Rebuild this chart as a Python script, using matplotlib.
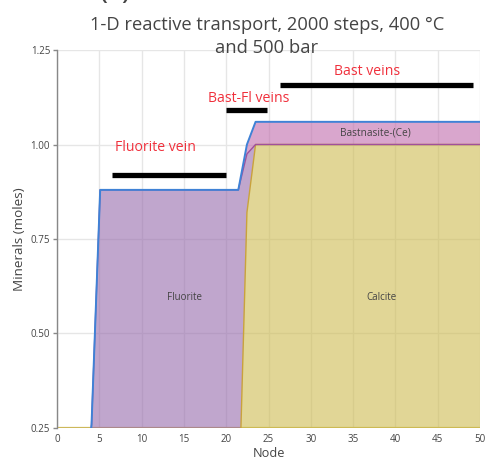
import numpy as np
import matplotlib
matplotlib.use("Agg")
import matplotlib.pyplot as plt

plt.rcParams['font.family'] = ['Open Sans', 'DejaVu Sans']

# 50 grid nodes spread across the 0-50 column
nodes = np.linspace(0, 50, 50)

calcite = [0.0] * 22 + [0.82] + [1.0] * 27
fluorite = [0.0] * 4 + [0.26] + [0.88] * 17 + [0.155] + [0.0] * 27
bastnasite = [0.0] * 22 + [0.025] + [0.06] * 27

vein_labels = ["Fluorite vein", "Bast-Fl veins", "Bast veins"]
vein_x0 = [6.5, 20.0, 26.4]
vein_x1 = [20.0, 24.8, 49.2]
vein_y = [0.92, 1.091, 1.158]
vein_text_x = [11.6, 22.7, 36.7]
vein_text_y = [0.993, 1.123, 1.194]

calcite = np.array(calcite)
fluorite = np.array(fluorite)
bastnasite = np.array(bastnasite)
c1 = calcite
c2 = calcite + fluorite
c3 = c2 + bastnasite

fig = plt.figure(figsize=(4.89, 4.61), dpi=100)
ax = fig.add_axes([0.1166, 0.0716, 0.865, 0.8199])

grid_c = '#e6e6e6'
ax.set_xlim(0, 50)
ax.set_ylim(0.25, 1.25)
ax.set_xticks(range(0, 51, 5))
ax.set_yticks([0.25, 0.5, 0.75, 1.0, 1.25])
ax.set_yticklabels(['0.25', '0.50', '0.75', '1.00', '1.25'])
ax.grid(True, color=grid_c, lw=1)
ax.set_axisbelow(True)
for s in ['top', 'right', 'bottom']:
    ax.spines[s].set_visible(False)
ax.spines['left'].set_color('#888888')
ax.spines['left'].set_linewidth(1)
ax.tick_params(axis='x', length=0, labelsize=7, labelcolor='#444444', pad=4)
ax.tick_params(axis='y', length=3, width=1, color='#888888', labelsize=7,
               labelcolor='#444444', pad=2)

# baseline along the bottom of the plot
ax.axhline(0.25, color='#cdb85a', lw=1.6, zorder=1)

ax.fill_between(nodes, 0, c1, facecolor=(205/255, 188/255, 80/255, 0.6), lw=0, zorder=2)
ax.fill_between(nodes, c1, c2, facecolor=(150/255, 107/255, 173/255, 0.6), lw=0, zorder=2)
ax.fill_between(nodes, c2, c3, facecolor=(193/255, 107/255, 173/255, 0.6), lw=0, zorder=2)

ax.plot(nodes, c1, color='#c9a23c', lw=1.0, zorder=3)
ax.plot(nodes, c2, color='#a0509c', lw=1.0, zorder=4)
ax.plot(nodes, c3, color='#3f82d6', lw=1.4, zorder=5)

for x0, x1, y in zip(vein_x0, vein_x1, vein_y):
    ax.plot([x0, x1], [y, y], color='black', lw=3.8, solid_capstyle='butt', zorder=6,
            clip_on=False)
for lab, tx, ty in zip(vein_labels, vein_text_x, vein_text_y):
    ax.text(tx, ty, lab, color='#f0303c', fontsize=10.1, ha='center', va='center', zorder=7)

ax.text(37.6, 1.03, 'Bastnasite-(Ce)', fontsize=7.3, color='#444444', ha='center', va='center', zorder=7)
ax.text(15.1, 0.595, 'Fluorite', fontsize=7.0, color='#444444', ha='center', va='center', zorder=7)
ax.text(38.4, 0.595, 'Calcite', fontsize=7.0, color='#444444', ha='center', va='center', zorder=7)

ax.set_xlabel('Node', fontsize=9.2, color='#444444', labelpad=2)
ax.set_ylabel('Minerals (moles)', fontsize=9.7, color='#444444', labelpad=3)

fig.text(0.546, 0.921, '1-D reactive transport, 2000 steps, 400 °C\nand 500 bar',
         ha='center', va='center', fontsize=13.2, color='#444444', linespacing=1.3)
fig.text(0.235, 1.004, '(c)', ha='center', va='baseline', fontsize=22, color='#444444')

fig.savefig('out.png', dpi=100)
